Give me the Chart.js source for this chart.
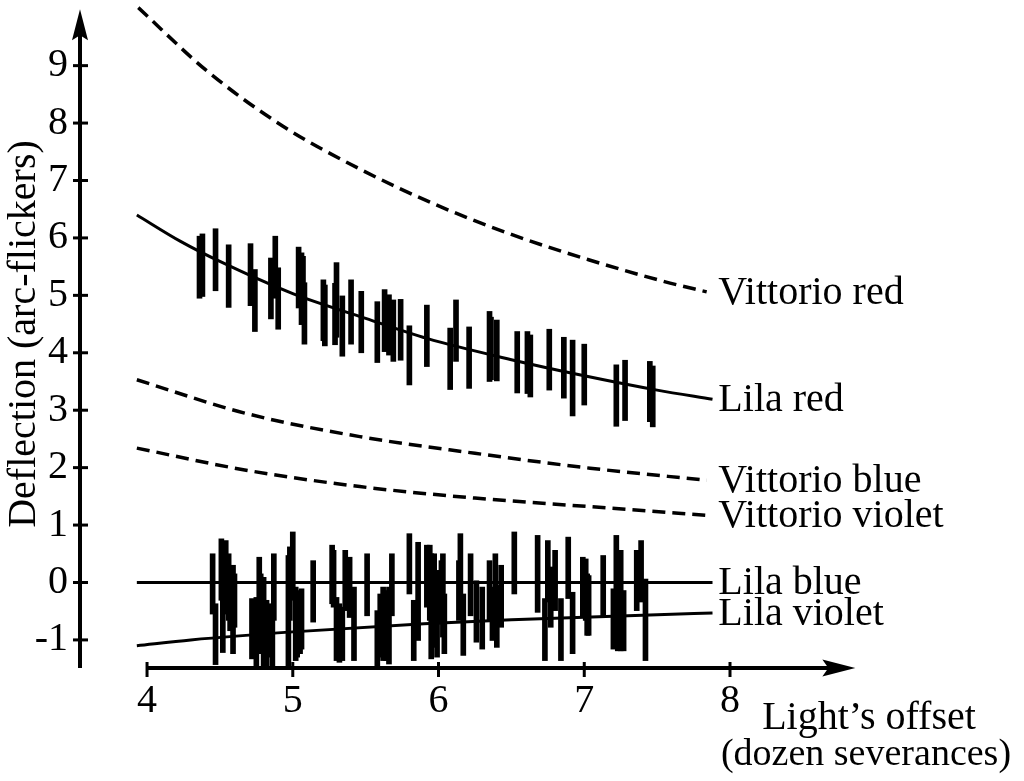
<!DOCTYPE html>
<html>
<head>
<meta charset="utf-8">
<title>Deflection vs light's offset</title>
<script src="https://cdn.jsdelivr.net/npm/chart.js@4.4.1/dist/chart.umd.min.js"></script>
<style>
  html, body { margin: 0; padding: 0; background: #fff; }
  #wrap { width: 1024px; height: 781px; }
</style>
</head>
<body>
<div id="wrap"><canvas id="deflectionChart"></canvas></div>
<script>
// tick labels
const xTicks = [4, 5, 6, 7, 8];
const yTicks = [-1, 0, 1, 2, 3, 4, 5, 6, 7, 8, 9];

// model curves
const vittorioRedX = [3.94, 4.41, 4.93, 5.46, 5.98, 6.50, 7.03, 7.55, 7.84];
const vittorioRedY = [10.01, 8.91, 7.95, 7.20, 6.58, 6.06, 5.62, 5.24, 5.06];

const lilaRedX = [3.93, 4.23, 4.50, 5.00, 5.50, 5.92, 6.50, 7.00, 7.50, 7.88];
const lilaRedY = [6.40, 5.94, 5.59, 5.03, 4.60, 4.25, 3.88, 3.60, 3.35, 3.19];

const vittorioBlueX = [3.93, 4.67, 5.46, 6.25, 7.04, 7.84];
const vittorioBlueY = [3.53, 2.95, 2.54, 2.25, 1.99, 1.78];

const vittorioVioletX = [3.93, 4.67, 5.46, 6.25, 7.04, 7.84];
const vittorioVioletY = [2.34, 1.96, 1.67, 1.47, 1.32, 1.17];

const lilaBlueX = [3.93, 7.88];
const lilaBlueY = [0, 0];

const lilaVioletX = [3.93, 4.30, 5.00, 5.90, 6.50, 7.50, 7.88];
const lilaVioletY = [-1.10, -1.00, -0.86, -0.72, -0.65, -0.56, -0.53];

// measured deflections, red light (x, low, high)
const redBarX = [4.36, 4.38, 4.47, 4.56, 4.71, 4.74, 4.85, 4.88, 4.90, 5.04, 5.06, 5.07, 5.08,
  5.21, 5.22, 5.29, 5.30, 5.34, 5.40, 5.47, 5.58, 5.63, 5.66, 5.69, 5.74, 5.80, 5.92,
  6.08, 6.12, 6.21, 6.35, 6.36, 6.40, 6.54, 6.61, 6.63, 6.76, 6.86, 6.92, 7.00, 7.22,
  7.28, 7.45, 7.47];
const redBarLow = [4.95, 4.98, 5.08, 4.79, 4.82, 4.37, 4.59, 4.95, 4.41, 4.78, 4.49, 4.62, 4.15,
  4.21, 4.12, 4.14, 4.27, 3.94, 4.15, 4.00, 3.83, 4.02, 3.96, 3.85, 3.87, 3.44, 3.76,
  3.36, 3.85, 3.38, 3.50, 3.53, 3.51, 3.30, 3.29, 3.23, 3.35, 3.21, 2.90, 3.09, 2.72,
  2.82, 2.80, 2.71];
const redBarHigh = [6.03, 6.07, 6.16, 5.88, 5.90, 5.45, 5.65, 6.03, 5.48, 5.84, 5.74, 5.68, 5.22,
  5.27, 5.18, 5.21, 5.57, 4.99, 5.27, 5.07, 4.89, 5.10, 5.01, 4.92, 4.93, 4.47, 4.83,
  4.43, 4.92, 4.45, 4.72, 4.62, 4.57, 4.37, 4.37, 4.31, 4.41, 4.27, 4.22, 4.15, 3.79,
  3.87, 3.85, 3.77];

// measured deflections, blue and violet light (x, low, high)
const blueBarX = [4.45, 4.47, 4.51, 4.52, 4.54, 4.56, 4.57, 4.59, 4.60, 4.72, 4.75, 4.77, 4.78,
  4.80, 4.82, 4.84, 4.86, 4.87, 4.97, 4.98, 5.00, 5.02, 5.03, 5.05, 5.06, 5.14, 5.27,
  5.28, 5.30, 5.32, 5.34, 5.36, 5.39, 5.42, 5.51, 5.58, 5.60, 5.62, 5.64, 5.66, 5.68,
  5.80, 5.83, 5.86, 5.92, 5.94, 5.95, 5.97, 5.99, 6.01, 6.02, 6.03, 6.04, 6.14, 6.15,
  6.17, 6.22, 6.26, 6.30, 6.35, 6.37, 6.39, 6.40, 6.43, 6.52, 6.68, 6.73, 6.75, 6.77,
  6.80, 6.84, 6.89, 6.92, 6.99, 7.01, 7.02, 7.03, 7.13, 7.20, 7.22, 7.23, 7.25, 7.27,
  7.36, 7.39, 7.42];
const blueBarLow = [-0.55, -1.43, -0.31, -1.22, -0.55, -0.66, -0.84, -1.24, -0.78, -1.33, -1.48, -0.61, -1.24,
  -1.48, -1.50, -1.30, -1.48, -0.66, -1.48, -0.66, -0.31, -1.36, -1.30, -1.24, -1.16, -0.69, -0.37,
  -0.43, -1.36, -1.39, -1.36, -0.49, -0.61, -1.36, -0.58, -1.48, -1.30, -1.36, -1.36, -1.42, -0.58,
  -0.20, -1.36, -1.01, -0.43, -0.66, -1.33, -1.13, -1.30, -0.72, -0.66, -0.95, -1.24, -0.66, -0.23,
  -1.27, -0.58, -1.04, -1.16, -0.66, -1.01, -0.58, -1.13, -0.78, -0.20, -0.52, -1.36, -0.34, -0.78,
  -0.49, -1.36, -0.28, -1.24, -0.61, -0.66, -0.92, -0.92, -0.61, -1.16, -0.26, -1.19, -1.19, -1.19,
  -0.49, -0.34, -1.36];
const blueBarHigh = [0.50, -0.37, 0.76, 0.44, 0.73, 0.50, 0.27, 0.30, 0.15, -0.28, -0.26, 0.44, 0.15,
  0.09, -0.31, -0.37, -0.49, 0.50, 0.47, 0.62, 0.88, -0.08, -0.31, -0.14, -0.11, 0.38, 0.65,
  0.56, -0.26, -0.37, -0.43, 0.56, 0.44, -0.08, 0.50, -0.49, -0.20, -0.08, -0.14, -0.08, 0.50,
  0.85, -0.31, 0.70, 0.65, 0.65, 0.50, 0.50, 0.21, 0.21, 0.38, 0.50, -0.20, 0.38, 0.85,
  -0.20, 0.50, 0.03, -0.08, 0.38, -0.08, 0.50, -0.05, 0.30, 0.88, 0.82, -0.28, 0.73, 0.27,
  0.56, -0.28, 0.79, -0.17, 0.44, 0.41, 0.15, 0.12, 0.47, -0.11, 0.82, -0.08, 0.56, -0.14,
  0.56, 0.73, 0.06];

const curveNames = ["Vittorio red", "Lila red", "Vittorio blue", "Vittorio violet", "Lila blue", "Lila violet"];
const curveX = [vittorioRedX, lilaRedX, vittorioBlueX, vittorioVioletX, lilaBlueX, lilaVioletX];
const curveY = [vittorioRedY, lilaRedY, vittorioBlueY, vittorioVioletY, lilaBlueY, lilaVioletY];
const curveDashed = [true, false, true, true, false, false];

const xTitle = ["Light\u2019s offset", "(dozen severances)"];
const yTitle = "Deflection (arc-flickers)";

const FONT = "Liberation Serif, Times New Roman, serif";
const TEXT_SIZE = 40;
Chart.defaults.font.family = FONT;
Chart.defaults.color = "#000";

function toPoints(xs, ys) {
  return xs.map((x, i) => ({ x: x, y: ys[i] }));
}
function toBars(xs, lo, hi) {
  return xs.map((x, i) => ({ x: x, y: [lo[i], hi[i]] }));
}

const datasets = [];
curveNames.forEach((name, i) => {
  datasets.push({
    type: "line",
    label: name,
    data: toPoints(curveX[i], curveY[i]),
    borderColor: "#000",
    borderWidth: curveDashed[i] ? 3.5 : 3,
    borderDash: curveDashed[i] ? [13, 7] : [],
    pointRadius: 0,
    cubicInterpolationMode: "monotone",
    fill: false,
    order: 2,
  });
});
datasets.push({
  type: "bar",
  label: "red data",
  data: toBars(redBarX, redBarLow, redBarHigh),
  backgroundColor: "#000",
  barThickness: 5,
  grouped: false,
  order: 1,
});
datasets.push({
  type: "bar",
  label: "blue/violet data",
  data: toBars(blueBarX, blueBarLow, blueBarHigh),
  backgroundColor: "#000",
  barThickness: 5,
  grouped: false,
  order: 1,
});

// axes drawn as arrows, plus the curve names and the x title
const arrowAxes = {
  id: "arrowAxes",
  afterDraw(chart) {
    const ctx = chart.ctx;
    const xs = chart.scales.x;
    const ys = chart.scales.y;
    const left = chart.chartArea.left;
    const bottom = chart.chartArea.bottom;
    const yTip = ys.getPixelForValue(9.98);
    const xTip = xs.getPixelForValue(8.86);
    ctx.save();
    ctx.strokeStyle = "#000";
    ctx.fillStyle = "#000";

    // y axis
    ctx.lineWidth = 4;
    ctx.beginPath();
    ctx.moveTo(left, bottom);
    ctx.lineTo(left, yTip + 20);
    ctx.stroke();
    ctx.beginPath();
    ctx.moveTo(left, yTip);
    ctx.lineTo(left - 8, yTip + 31);
    ctx.lineTo(left, yTip + 26);
    ctx.lineTo(left + 8, yTip + 31);
    ctx.closePath();
    ctx.fill();
    ctx.lineWidth = 3;
    yTicks.forEach(v => {
      const p = ys.getPixelForValue(v);
      ctx.beginPath();
      ctx.moveTo(left - 7, p);
      ctx.lineTo(left + 8, p);
      ctx.stroke();
    });

    // x axis, starting at the first tick
    const xStart = xs.getPixelForValue(xTicks[0]);
    ctx.lineWidth = 4;
    ctx.beginPath();
    ctx.moveTo(xStart, bottom);
    ctx.lineTo(xTip - 20, bottom);
    ctx.stroke();
    ctx.beginPath();
    ctx.moveTo(xTip, bottom);
    ctx.lineTo(xTip - 33, bottom - 8.5);
    ctx.lineTo(xTip - 27, bottom);
    ctx.lineTo(xTip - 33, bottom + 8.5);
    ctx.closePath();
    ctx.fill();
    ctx.lineWidth = 3;
    xTicks.forEach(v => {
      const p = xs.getPixelForValue(v);
      ctx.beginPath();
      ctx.moveTo(p, bottom - 6);
      ctx.lineTo(p, bottom + 9);
      ctx.stroke();
    });

    // curve names at the right end of each curve
    ctx.font = TEXT_SIZE + "px " + FONT;
    ctx.textAlign = "left";
    ctx.textBaseline = "alphabetic";
    const labelX = xs.getPixelForValue(7.92);
    curveNames.forEach((name, i) => {
      const pts = chart.getDatasetMeta(i).data;
      const last = pts[pts.length - 1];
      ctx.fillText(name, labelX, last.y + 12);
    });

    // x axis title
    ctx.textAlign = "center";
    ctx.fillText(xTitle[0], 869, 729);
    ctx.font = "38px " + FONT;
    ctx.fillText(xTitle[1], 866, 765);
    ctx.restore();
  }
};

new Chart(document.getElementById("deflectionChart"), {
  type: "bar",
  data: { datasets: datasets },
  options: {
    responsive: true,
    maintainAspectRatio: false,
    animation: false,
    layout: { padding: { left: 0, right: 164, top: 0, bottom: 0 } },
    plugins: {
      legend: { display: false },
      tooltip: { enabled: false },
    },
    scales: {
      x: {
        type: "linear",
        min: 3.54,
        max: 8.892,
        offset: false,
        grid: { display: false, drawTicks: false },
        border: { display: false },
        ticks: {
          font: { size: TEXT_SIZE },
          padding: 9,
          maxRotation: 0,
          autoSkip: false,
        },
        afterBuildTicks: s => { s.ticks = xTicks.map(v => ({ value: v })); },
        afterFit: s => {
          s.height = 113;
          s.paddingLeft = 0;
          s.paddingRight = 0;
        },
      },
      y: {
        type: "linear",
        min: -1.489,
        max: 10.143,
        grid: { display: false, drawTicks: false },
        border: { display: false },
        ticks: {
          font: { size: TEXT_SIZE },
          padding: 12,
        },
        title: {
          display: true,
          text: yTitle,
          font: { size: TEXT_SIZE },
          padding: 0,
        },
        afterBuildTicks: s => { s.ticks = yTicks.map(v => ({ value: v })); },
        afterFit: s => {
          s.width = 80;
          s.paddingTop = 0;
          s.paddingBottom = 0;
        },
      },
    },
  },
  plugins: [arrowAxes],
});
</script>
</body>
</html>
